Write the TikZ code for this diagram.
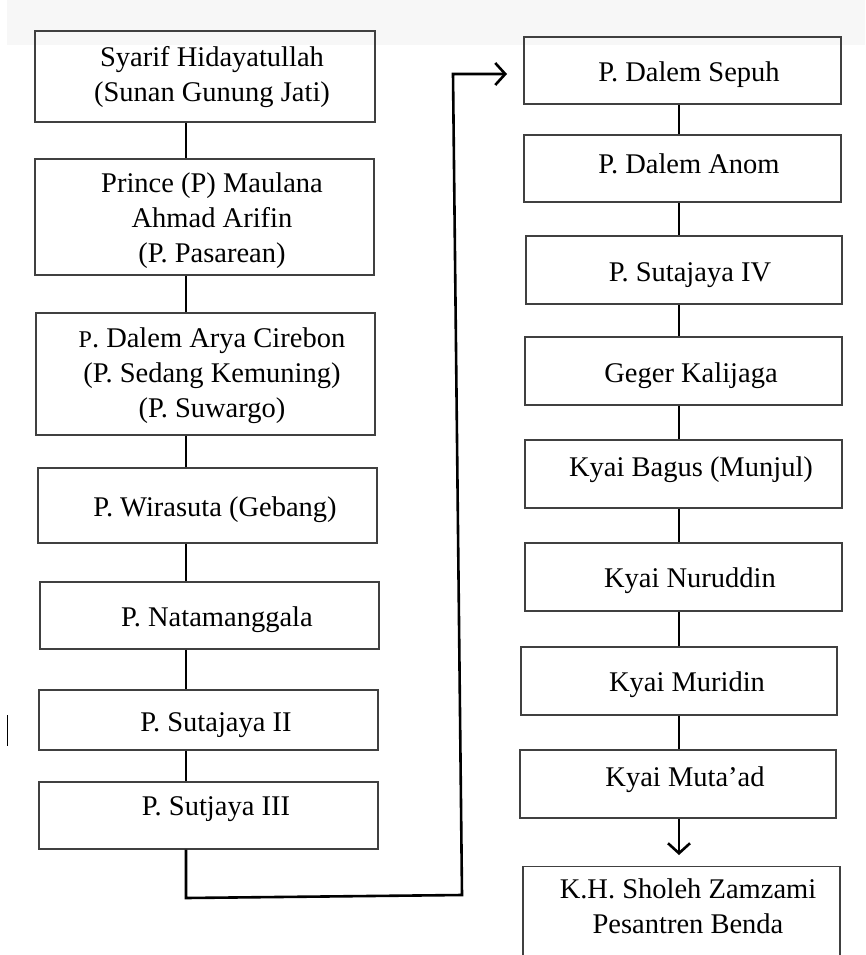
\documentclass[tikz,border=0pt]{standalone}
\usepackage{fontspec}
\setmainfont{Liberation Serif}
\usetikzlibrary{arrows.meta}
\begin{document}
\begin{tikzpicture}[x=1pt,y=-1pt,
  box/.style={draw=black!75,line width=1.2pt,rectangle,inner sep=0pt},
  lbl/.style={font=\fontsize{28.5}{35}\selectfont,align=center,inner sep=0pt},
  conn/.style={line width=2.6pt,black},
  tip/.style={-{Straight Barb[length=10pt,width=22pt,line width=2.6pt]}}]
\useasboundingbox (0,0) rectangle (865,955);
\clip (0,0) rectangle (865,955);
\fill[black!3] (7,0) rectangle (865,45);
% left column
\node[box,minimum width=340,minimum height=91,label={[lbl,xshift=7pt,yshift=-1pt]center:Syarif Hidayatullah\\(Sunan Gunung Jati)}] (b1) at (205,76.5) {};
\node[box,minimum width=339,minimum height=116,label={[lbl,xshift=7.5pt,yshift=-4pt]center:Prince (P) Maulana\\Ahmad Arifin\\(P. Pasarean)}] (b2) at (204.5,217) {};
\node[box,minimum width=339,minimum height=122,label={[lbl,xshift=6.5pt,yshift=-2pt]center:{\fontsize{24}{35}\selectfont P}. Dalem Arya Cirebon\\(P. Sedang Kemuning)\\(P. Suwargo)}] (b3) at (205.5,374) {};
\node[box,minimum width=339,minimum height=75,label={[lbl,xshift=7.5pt,yshift=-4pt]center:P. Wirasuta (Gebang)}] (b4) at (207.5,505.5) {};
\node[box,minimum width=339,minimum height=67,label={[lbl,xshift=7.5pt,yshift=-4pt]center:P. Natamanggala}] (b5) at (209.5,615.5) {};
\node[box,minimum width=339,minimum height=60,label={[lbl,xshift=7.5pt,yshift=-5pt]center:P. Sutajaya II}] (b6) at (208.5,720) {};
\node[box,minimum width=339,minimum height=67,label={[lbl,xshift=7.5pt,yshift=6pt]center:P. Sutjaya III}] (b7) at (208.5,815.5) {};
% right column
\node[box,minimum width=317,minimum height=67,label={[lbl,xshift=6.5pt,yshift=-4pt]center:P. Dalem Sepuh}] (r1) at (682.5,70.5) {};
\node[box,minimum width=317,minimum height=67,label={[lbl,xshift=6.5pt,yshift=5pt]center:P. Dalem Anom}] (r2) at (682.5,168.5) {};
\node[box,minimum width=316,minimum height=68,label={[lbl,xshift=6pt,yshift=-5pt]center:P. Sutajaya IV}] (r3) at (684,270) {};
\node[box,minimum width=317,minimum height=68,label={[lbl,xshift=7.5pt,yshift=-5pt]center:Geger Kalijaga}] (r4) at (683.5,371) {};
\node[box,minimum width=317,minimum height=68,label={[lbl,xshift=7.5pt,yshift=4pt]center:Kyai Bagus (Munjul)}] (r5) at (683.5,474) {};
\node[box,minimum width=317,minimum height=68,label={[lbl,xshift=6.5pt,yshift=-4pt]center:Kyai Nuruddin}] (r6) at (683.5,577) {};
\node[box,minimum width=316,minimum height=68,label={[lbl,xshift=8pt,yshift=-4pt]center:Kyai Muridin}] (r7) at (679,681) {};
\node[box,minimum width=316,minimum height=68,label={[lbl,xshift=7pt,yshift=4pt]center:Kyai Muta’ad}] (r8) at (678,784) {};
\node[box,minimum width=317,minimum height=118,anchor=north] (r9) at (681.5,866) {};
\node[lbl] (r9t) at (688,906) {K.H. Sholeh Zamzami\\Pesantren Benda};
% connector columns
\coordinate (colL) at (186,0);
\coordinate (colR) at (679,0);
\foreach \a/\b in {b1/b2,b2/b3,b3/b4,b4/b5,b5/b6,b6/b7}{
  \draw[conn] (\a.south -| colL) -- (\b.north -| colL);
}
\foreach \a/\b in {r1/r2,r2/r3,r3/r4,r4/r5,r5/r6,r6/r7,r7/r8}{
  \draw[conn] (\a.south -| colR) -- (\b.north -| colR);
}
% long connector from b7 to r1
\coordinate (cA) at (186,898);
\coordinate (cB) at (462,895);
\coordinate (cC) at (453,74);
\coordinate (cT) at (507,74);
\draw[conn,tip,line join=miter] (b7.south -| colL) -- (cA) -- (cB) -- (cC) -- (cT);
% arrow to last box
\draw[conn,tip,shorten >=11pt] (r8.south -| colR) -- (r9.north -| colR);
% stray mark
\coordinate (m1) at (7,715);
\coordinate (m2) at (7,746);
\draw[line width=1pt] (m1) -- (m2);
\end{tikzpicture}
\end{document}
